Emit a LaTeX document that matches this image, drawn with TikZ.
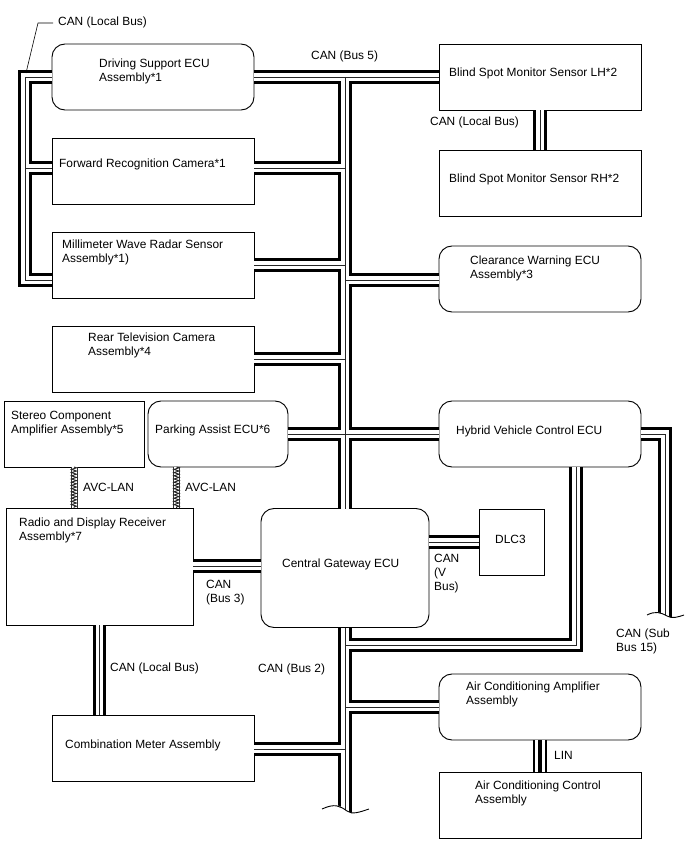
\documentclass[tikz,border=0pt]{standalone}
\usepackage{fontspec}
\setmainfont{Liberation Sans}
\usetikzlibrary{positioning,decorations.pathmorphing}

% every wire of the CAN network, drawn three times over so that joints merge
\newcommand{\canpaths}{
    (driving.east) -- (bsmlh.west)
    (jdrive) -- (central.north -| jdrive)
    (central.south -| jdrive) -- (trunkend)
    (forward.east |- jforward) -- (jforward)
    (radar.east |- jradar) -- (jradar)
    (rearcam.east |- jrear) -- (jrear)
    (clearance.west |- jclear) -- (jclear)
    (parking.east |- jpark) -- (hybrid.west |- jpark)
    (aircon.west |- jaircon) -- (jaircon)
    (combi.east |- jcombi) -- (jcombi)
    (radio.east |- jradio) -- (central.west |- jradio)
    (central.east |- jdlc) -- (dlc.west |- jdlc)
    (hybrid.south -| jhybrid) -- (jhybrid) -- (jhybrid -| jdrive)
    (hybrid.east |- jpark) -- (jsub) -- (subend)
    (driving.west) -- (jlocal |- driving.west) -- (jlocal) -- (radar.west |- jlocal)
    (forward.west |- jforward) -- (jlocal |- jforward)
    (bsmlh.south) -- (bsmrh.north)
    (radio.south) -- (combi.north -| radio.south)
}

\begin{document}
\begin{tikzpicture}[
    x=1pt, y=-1pt,
    box/.style={rectangle, draw, fill=white, line width=0.95pt, outer sep=0pt, inner sep=0pt,
                minimum width=202pt, minimum height=66pt},
    roundbox/.style={box, rounded corners=13pt},
    txt/.style={anchor=west, inner sep=0pt, align=left, font=\fontsize{11.9}{14}\selectfont},
    busouter/.style={line width=13.5pt, black},
    businner/.style={line width=7.5pt, white},
    buscore/.style={line width=1pt, black!85},
    twist/.style={line width=7pt, black!80},
    twistgap/.style={line width=5pt, white},
    twistzig/.style={line width=0.9pt, black!85, decorate,
                     decoration={zigzag, segment length=3.2pt, amplitude=2.6pt}},
    breakline/.style={line width=0.9pt, black}
]
\useasboundingbox (0,0) rectangle (688,852);

% Boxes
\node[roundbox] (driving) at (153,77) {};
\node[box] (forward) at (153,171) {};
\node[box] (radar) at (153,265) {};
\node[box] (rearcam) at (153,359) {};
\node[box, minimum width=140pt] (stereo) at (74,434) {};
\node[roundbox, minimum width=140pt] (parking) at (218,434) {};
\node[box, minimum width=187pt, minimum height=117pt] (radio) at (99.5,566.5) {};
\node[roundbox, minimum width=168pt, minimum height=119pt] (central) at (345,568) {};
\node[box, minimum width=65pt] (dlc) at (511.5,542) {};
\node[box] (combi) at (153,748) {};
\node[box] (bsmlh) at (540,77) {};
\node[box] (bsmrh) at (540,183) {};
\node[roundbox] (clearance) at (540,279) {};
\node[roundbox] (hybrid) at (540,434) {};
\node[roundbox] (aircon) at (540,707) {};
\node[box] (acctrl) at (540,805) {};

% Joints and ends of the buses
\coordinate (jdrive) at (345,77);
\coordinate (jforward) at (345,168);
\coordinate (jradar) at (345,265);
\coordinate (jrear) at (345,359);
\coordinate (jclear) at (345,280);
\coordinate (jpark) at (345,434);
\coordinate (jaircon) at (345,707);
\coordinate (jcombi) at (345,749);
\coordinate (jradio) at (227,566);
\coordinate (jdlc) at (454,542);
\coordinate (jhybrid) at (576,645);
\coordinate (jsub) at (665,434);
\coordinate (subend) at (665,620);
\coordinate (trunkend) at (345,816);
\coordinate (jlocal) at (25,280);
\coordinate (avcl) at (74,467);
\coordinate (avcr) at (176.5,467);

% CAN buses
\draw[busouter] \canpaths;
\draw[businner] \canpaths;
\draw[buscore] \canpaths;

% LIN
\draw[busouter] (aircon.south) -- (acctrl.north);
\draw[businner, line width=9.5pt] (aircon.south) -- (acctrl.north);
\draw[line width=4pt] (aircon.south) -- (acctrl.north);

% AVC-LAN
\draw[twist] (avcl) -- (avcl |- radio.north);
\draw[twistgap] (avcl) -- (avcl |- radio.north);
\draw[twistzig] (avcl) -- (avcl |- radio.north);
\draw[twist] (avcr) -- (avcr |- radio.north);
\draw[twistgap] (avcr) -- (avcr |- radio.north);
\draw[twistzig] (avcr) -- (avcr |- radio.north);

% Cut ends
\fill[white] (320,809) .. controls (335,801) and (340,806) .. (347,811)
    .. controls (352,815) and (360,812) .. (371,808) -- (371,820) -- (320,820) -- cycle;
\draw[breakline] (322,809) .. controls (335,803) and (340,806) .. (347,811)
    .. controls (352,815) and (360,812) .. (369,809);
\fill[white] (645,615) .. controls (655,610) and (660,612) .. (667,616)
    .. controls (672,619) and (678,617) .. (686,614) -- (686,624) -- (645,624) -- cycle;
\draw[breakline] (647,615) .. controls (655,611) and (660,612) .. (667,616)
    .. controls (672,619) and (678,617) .. (684,615);

% Leader
\coordinate (leadstart) at (53,23);
\coordinate (leadbend) at (38,23);
\coordinate (leadend) at (26,73);
\draw[line width=0.6pt] (leadstart) -- (leadbend) -- (leadend);

% Box texts
\node[txt] (drivingtxt) at (99,71.5) {Driving Support ECU\\Assembly*1};
\node[txt] (forwardtxt) at (59,164.5) {Forward Recognition Camera*1};
\node[txt] (radartxt) at (62,252.5) {Millimeter Wave Radar Sensor\\Assembly*1)};
\node[txt] (reartxt) at (88,345.5) {Rear Television Camera\\Assembly*4};
\node[txt] (stereotxt) at (11,423.5) {Stereo Component\\Amplifier Assembly*5};
\node[txt] (parktxt) at (155,430.5) {Parking Assist ECU*6};
\node[txt] (radiotxt) at (19,530.5) {Radio and Display Receiver\\Assembly*7};
\node[txt] (centraltxt) at (282,564.5) {Central Gateway ECU};
\node[txt] (dlctxt) at (495,539.5) {DLC3};
\node[txt] (combitxt) at (65,745.5) {Combination Meter Assembly};
\node[txt] (lhtxt) at (449,73.5) {Blind Spot Monitor Sensor LH*2};
\node[txt] (rhtxt) at (449,179.5) {Blind Spot Monitor Sensor RH*2};
\node[txt] (cleartxt) at (470,268.5) {Clearance Warning ECU\\Assembly*3};
\node[txt] (hybridtxt) at (456,431.5) {Hybrid Vehicle Control ECU};
\node[txt] (aircontxt) at (466,694.5) {Air Conditioning Amplifier\\Assembly};
\node[txt] (acctrltxt) at (475,793.5) {Air Conditioning Control\\Assembly};

% Bus labels
\node[txt] (localtop) at (58,22.5) {CAN (Local Bus)};
\node[txt] (bus5) at (311,56.5) {CAN (Bus 5)};
\node[txt] (localbsm) at (430,122.5) {CAN (Local Bus)};
\node[txt] (avcleft) at (83,487.5) {AVC-LAN};
\node[txt] (avcright) at (185,487.5) {AVC-LAN};
\node[txt] (bus3) at (206,592.5) {CAN\\(Bus 3)};
\node[txt] (vbus) at (434,573.5) {CAN\\(V\\Bus)};
\node[txt] (sub15) at (616,641.5) {CAN (Sub\\Bus 15)};
\node[txt] (bus2) at (258,669.5) {CAN (Bus 2)};
\node[txt] (localmeter) at (110,668.5) {CAN (Local Bus)};
\node[txt] (lin) at (554,755.5) {LIN};

\end{tikzpicture}
\end{document}
